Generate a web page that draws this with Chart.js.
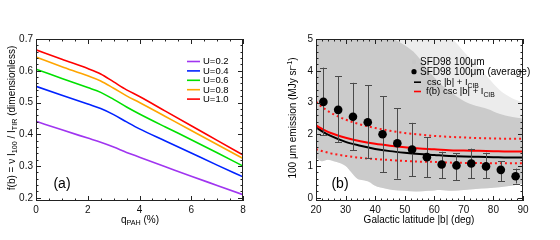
<!DOCTYPE html>
<html><head><meta charset="utf-8">
<script src="https://cdn.jsdelivr.net/npm/chart.js@4.4.0/dist/chart.umd.min.js"></script>
<style>
html,body{margin:0;padding:0;background:#fff;width:560px;height:240px;overflow:hidden}
.p{position:absolute;top:0;width:280px;height:240px}
canvas{display:block}
</style></head><body>
<div class="p" style="left:0"><canvas id="ca" width="280" height="240"></canvas></div>
<div class="p" style="left:280px"><canvas id="cb" width="280" height="240"></canvas></div>
<script>
// ---------- Panel (a) data ----------
const qPAH = [0, 1, 2, 2.5, 3, 3.5, 4, 5, 6, 7, 8];
const fU02 = [0.441,0.414,0.388,0.375,0.360,0.343,0.328,0.298,0.268,0.239,0.210];
const fU04 = [0.551,0.523,0.495,0.481,0.462,0.439,0.417,0.379,0.341,0.303,0.266];
const fU06 = [0.605,0.576,0.547,0.532,0.510,0.486,0.464,0.423,0.383,0.342,0.300];
const fU08 = [0.643,0.613,0.584,0.568,0.545,0.521,0.500,0.456,0.412,0.368,0.324];
const fU10 = [0.666,0.636,0.607,0.590,0.565,0.540,0.519,0.473,0.427,0.381,0.335];
const labelsA = ['U=0.2','U=0.4','U=0.6','U=0.8','U=1.0'];
const xTicksA = [0, 2, 4, 6, 8];
const yTicksA = [0.2, 0.3, 0.4, 0.5, 0.6, 0.7];

// ---------- Panel (b) data ----------
const cloudLat   = [20.3,22,24,26,28,30,32,34,36,38,40,43,46,50,54,58,62,66,70,74,78,82,86,90];
const cloudLow   = [1.25,1.15,1.2,1.15,1.1,1.0,0.8,0.6,0.55,0.5,0.38,0.3,0.25,0.22,0.2,0.22,0.25,0.22,0.25,0.28,0.3,0.33,0.38,0.45];
const cloudDense = [5.1,5.1,5.1,5.1,5.1,5.1,5.1,5.1,5.1,5.1,5.1,5.1,5.0,4.8,4.5,4.0,3.6,3.3,3.05,2.9,2.8,2.65,2.55,2.5];
const cloudSparse= [5.1,5.1,5.1,5.1,5.1,5.1,5.1,5.1,5.1,5.1,5.1,5.1,5.1,5.1,5.1,5.1,5.1,5.0,4.6,4.2,3.8,3.4,3.15,3.0];
const curveLat   = [20,22.5,25,30,35,40,45,50,55,60,65,70,75,80,85,90];
const cscModel   = [2.22,2.07,1.95,1.76,1.64,1.54,1.47,1.42,1.38,1.35,1.32,1.30,1.29,1.28,1.27,1.27];
const fcscModel  = [2.28,2.15,2.04,1.89,1.78,1.70,1.64,1.59,1.55,1.53,1.50,1.49,1.48,1.47,1.46,1.46];
const fcscHigh   = [3.02,2.83,2.68,2.46,2.31,2.20,2.11,2.04,1.99,1.95,1.92,1.90,1.88,1.87,1.86,1.86];
const fcscLow    = [1.53,1.46,1.40,1.32,1.26,1.22,1.19,1.16,1.14,1.13,1.11,1.10,1.10,1.09,1.09,1.09];
const avgLat     = [22.5,27.5,32.5,37.5,42.5,47.5,52.5,57.5,62.5,67.5,72.5,77.5,82.5,87.5];
const avgVal     = [3.02,2.77,2.55,2.38,2.00,1.72,1.52,1.28,1.05,1.02,1.08,0.99,0.88,0.68];
const avgHi      = [4.10,3.82,3.62,3.55,3.20,2.82,2.36,1.90,1.45,1.40,1.55,1.42,1.15,0.92];
const avgLo      = [1.98,1.76,1.50,1.24,0.80,0.60,0.68,0.64,0.62,0.56,0.62,0.62,0.53,0.45];
const xTicksB = [20, 30, 40, 50, 60, 70, 80, 90];
const yTicksB = [0, 1, 2, 3, 4, 5];

// ---------- helpers ----------
const FAM = '"Liberation Sans", Arial, Helvetica, sans-serif';
const tickFont = {family: FAM, size: 10};
function pts(xs, ys){ return xs.map((x,i)=>({x:x, y:ys[i]})); }

function richText(ctx, parts, x, y, rot, size, align){
  ctx.save();
  ctx.translate(x, y); ctx.rotate(rot || 0);
  const fn = size + 'px ' + FAM, fs = (size*0.72).toFixed(1) + 'px ' + FAM;
  let w = 0;
  const ws = parts.map(p => { ctx.font = p[1] === 'n' ? fn : fs; const m = ctx.measureText(p[0]).width; w += m; return m; });
  let cx = align === 'left' ? 0 : -w/2;
  ctx.textBaseline = 'alphabetic'; ctx.textAlign = 'left'; ctx.fillStyle = '#000';
  const base = size*0.36;
  parts.forEach((p,i) => {
    ctx.font = p[1] === 'n' ? fn : fs;
    const dy = p[1] === 'sub' ? size*0.28 : (p[1] === 'sup' ? -size*0.38 : 0);
    ctx.fillText(p[0], cx, base + dy);
    cx += ws[i];
  });
  ctx.restore();
}

function drawFrame(chart, xMaj, xMin, yMaj, yMin){
  const ctx = chart.ctx, a = chart.chartArea, xs = chart.scales.x, ys = chart.scales.y;
  ctx.save();
  ctx.strokeStyle = '#222'; ctx.lineWidth = 1;
  ctx.beginPath();
  const tick = (vals, len, axis) => vals.forEach(v => {
    if (axis === 'x') {
      const p = Math.round(xs.getPixelForValue(v)) + 0.5;
      ctx.moveTo(p, a.bottom); ctx.lineTo(p, a.bottom - len);
      ctx.moveTo(p, a.top); ctx.lineTo(p, a.top + len);
    } else {
      const p = Math.round(ys.getPixelForValue(v)) + 0.5;
      ctx.moveTo(a.left, p); ctx.lineTo(a.left + len, p);
      ctx.moveTo(a.right, p); ctx.lineTo(a.right - len, p);
    }
  });
  tick(xMaj, 5, 'x'); tick(xMin, 2.5, 'x'); tick(yMaj, 5, 'y'); tick(yMin, 2.5, 'y');
  ctx.stroke();
  ctx.strokeRect(Math.round(a.left)+0.5, Math.round(a.top)+0.5, Math.round(a.right-a.left)-1, Math.round(a.bottom-a.top)-1);
  ctx.restore();
}
function range(a, b, s){ const r=[]; for(let v=a; v<=b+1e-9; v+=s) r.push(+v.toFixed(4)); return r; }

function axisCommon(min, max, ticksArr, fmt){
  return {
    type: 'linear', min: min, max: max,
    grid: {display: false, drawTicks: false}, border: {display: false},
    ticks: {font: tickFont, color: '#111', padding: 3, maxRotation: 0, autoSkip: false, callback: fmt},
    afterBuildTicks: s => { s.ticks = ticksArr.map(v => ({value: v})); }
  };
}

// ---------- Chart (a) ----------
const colorsA = ['#a035f0', '#0022ff', '#00e000', '#ffa500', '#ff0000'];
const seriesA = [fU02, fU04, fU06, fU08, fU10];
const frameA = {
  id: 'frameA',
  afterDraw(chart){
    drawFrame(chart, xTicksA, range(0,8,0.5), yTicksA, range(0.2,0.7,0.02));
    const ctx = chart.ctx;
    labelsA.forEach((lab, i) => {
      const y = 61 + i*9.4;
      ctx.save(); ctx.strokeStyle = colorsA[i]; ctx.lineWidth = 1.6;
      ctx.beginPath(); ctx.moveTo(187, y+0.5); ctx.lineTo(200, y+0.5); ctx.stroke(); ctx.restore();
      richText(ctx, [[lab,'n']], 203, y, 0, 9.5, 'left');
    });
    richText(ctx, [['(a)','n']], 62, 183, 0, 14);
    richText(ctx, [['q','n'],['PAH','sub'],[' (%)','n']], 140, 219, 0, 10);
    richText(ctx, [['f(b) = \u03bd I','n'],['100','sub'],[' / I','n'],['TIR','sub'],[' (dimensionless)','n']], 11, 118, -Math.PI/2, 10);
  }
};
new Chart(document.getElementById('ca'), {
  type: 'line',
  data: {datasets: seriesA.map((s,i) => ({
    label: labelsA[i], data: pts(qPAH, s), borderColor: colorsA[i], borderWidth: 1.6,
    pointRadius: 0, fill: false, cubicInterpolationMode: 'monotone'
  }))},
  options: {
    animation: false, responsive: false, events: [],
    layout: {padding: {left: 0, right: 37, top: 39, bottom: 0}},
    plugins: {legend: {display: false}, tooltip: {enabled: false}},
    scales: {
      x: Object.assign(axisCommon(0, 8, xTicksA, v => String(v)), {afterFit: s => { s.height = 39; }}),
      y: Object.assign(axisCommon(0.19, 0.70, yTicksA, v => v.toFixed(1)), {afterFit: s => { s.width = 36; }})
    }
  },
  plugins: [frameA]
});

// ---------- Chart (b) ----------
const AVG_INDEX = 7;
const errPlugin = {
  id: 'errB',
  beforeDatasetDraw(chart, args){
    if (args.index !== AVG_INDEX) return;
    const ctx = chart.ctx, xs = chart.scales.x, ys = chart.scales.y, a = chart.chartArea;
    ctx.save();
    ctx.beginPath(); ctx.rect(a.left, a.top, a.right-a.left, a.bottom-a.top); ctx.clip();
    ctx.strokeStyle = '#4a4a4a'; ctx.lineWidth = 1;
    ctx.beginPath();
    avgLat.forEach((b,i) => {
      const px = Math.round(xs.getPixelForValue(b)) + 0.5;
      const yh = ys.getPixelForValue(avgHi[i]), yl = ys.getPixelForValue(avgLo[i]);
      ctx.moveTo(px, yh); ctx.lineTo(px, yl);
      ctx.moveTo(px-3.5, Math.round(yh)+0.5); ctx.lineTo(px+3.5, Math.round(yh)+0.5);
      ctx.moveTo(px-3.5, Math.round(yl)+0.5); ctx.lineTo(px+3.5, Math.round(yl)+0.5);
    });
    ctx.stroke(); ctx.restore();
  }
};
const frameB = {
  id: 'frameB',
  afterDraw(chart){
    drawFrame(chart, xTicksB, range(20,90,2), yTicksB, range(0,5,0.2));
    const ctx = chart.ctx;
    const rows = [61.7, 71.7, 81.7, 91];
    ctx.save();
    ctx.fillStyle = '#c8c8c8'; ctx.beginPath(); ctx.arc(134, rows[0], 2.2, 0, 2*Math.PI); ctx.fill();
    ctx.fillStyle = '#000'; ctx.beginPath(); ctx.arc(134, rows[1], 2.6, 0, 2*Math.PI); ctx.fill();
    ctx.lineWidth = 1.6;
    ctx.strokeStyle = '#000'; ctx.beginPath(); ctx.moveTo(134, rows[2]+0.5); ctx.lineTo(141, rows[2]+0.5); ctx.stroke();
    ctx.strokeStyle = '#ff0000'; ctx.beginPath(); ctx.moveTo(134, rows[3]+0.5); ctx.lineTo(141, rows[3]+0.5); ctx.stroke();
    ctx.restore();
    richText(ctx, [['SFD98 100\u03bcm','n']], 140, rows[0], 0, 10, 'left');
    richText(ctx, [['SFD98 100\u03bcm (average)','n']], 140, rows[1], 0, 10, 'left');
    richText(ctx, [['csc |b| + I','n'],['CIB','sub']], 147, rows[2], 0, 9.5, 'left');
    richText(ctx, [['f(b) csc |b| + I','n'],['CIB','sub']], 146, rows[3], 0, 9.5, 'left');
    richText(ctx, [['(b)','n']], 60, 183, 0, 14);
    richText(ctx, [['Galactic latitude |b| (deg)','n']], 139, 219, 0, 10);
    richText(ctx, [['100 \u03bcm emission (MJy sr','n'],['-1','sup'],[')','n']], 12, 118, -Math.PI/2, 10);
  }
};
const lineOpts = {pointRadius: 0, fill: false, cubicInterpolationMode: 'monotone'};
new Chart(document.getElementById('cb'), {
  type: 'line',
  data: {datasets: [
    Object.assign({label: 'cloud low', data: pts(cloudLat, cloudLow), borderWidth: 0, borderColor: 'rgba(0,0,0,0)', order: 12}, lineOpts),
    Object.assign({}, lineOpts, {label: 'cloud sparse', data: pts(cloudLat, cloudSparse), borderWidth: 0, borderColor: 'rgba(0,0,0,0)', fill: 0, backgroundColor: '#ececec', order: 11}),
    Object.assign({}, lineOpts, {label: 'SFD98 100\u03bcm', data: pts(cloudLat, cloudDense), borderWidth: 0, borderColor: 'rgba(0,0,0,0)', fill: 0, backgroundColor: '#cbcbcb', order: 10}),
    Object.assign({label: 'high', data: pts(curveLat, fcscHigh), borderColor: '#ff1a1a', borderWidth: 2, borderDash: [2, 3], order: 6}, lineOpts),
    Object.assign({label: 'low', data: pts(curveLat, fcscLow), borderColor: '#ff1a1a', borderWidth: 2, borderDash: [2, 3], order: 6}, lineOpts),
    Object.assign({label: 'csc |b| + I_CIB', data: pts(curveLat, cscModel), borderColor: '#000', borderWidth: 2, order: 5}, lineOpts),
    Object.assign({label: 'f(b) csc |b| + I_CIB', data: pts(curveLat, fcscModel), borderColor: '#ff0000', borderWidth: 2, order: 4}, lineOpts),
    {label: 'SFD98 100\u03bcm (average)', data: pts(avgLat, avgVal), showLine: false, pointRadius: 4.3, pointBackgroundColor: '#000', pointBorderWidth: 0, borderColor: '#000', order: 0}
  ]},
  options: {
    animation: false, responsive: false, events: [],
    layout: {padding: {left: 0, right: 37, top: 39, bottom: 0}},
    plugins: {legend: {display: false}, tooltip: {enabled: false}, filler: {propagate: false}},
    scales: {
      x: Object.assign(axisCommon(20, 90, xTicksB, v => String(v)), {afterFit: s => { s.height = 39; }}),
      y: Object.assign(axisCommon(-0.1, 5, yTicksB, v => String(v)), {afterFit: s => { s.width = 36; }})
    }
  },
  plugins: [errPlugin, frameB]
});
</script>
</body></html>
